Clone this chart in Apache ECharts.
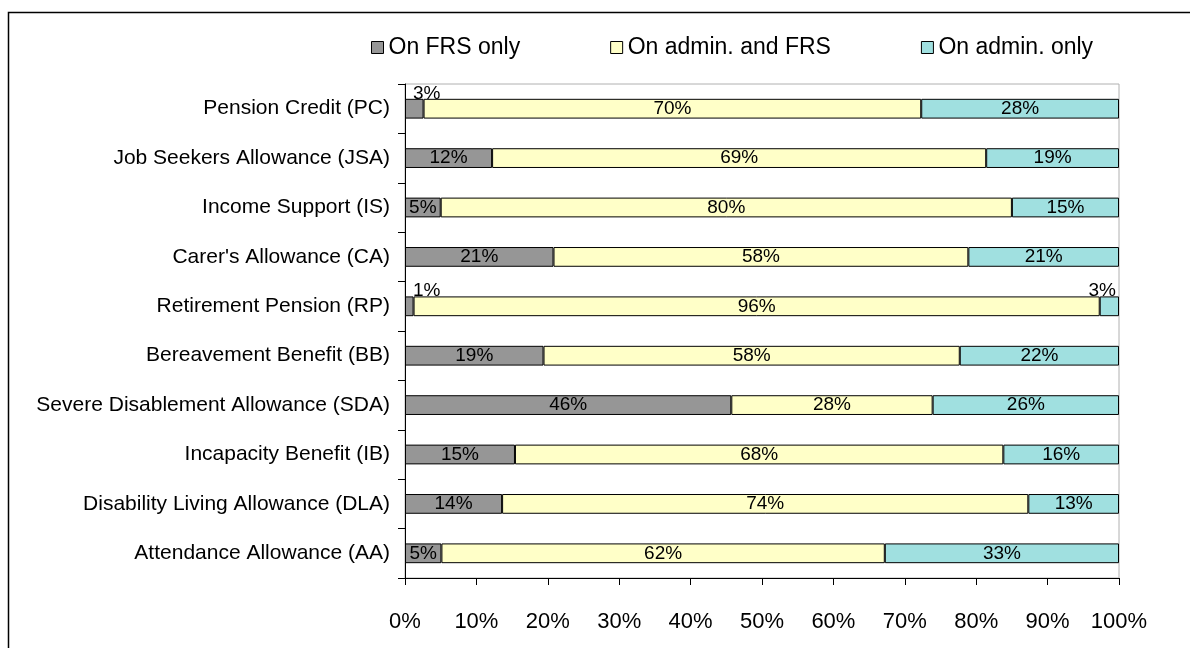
<!DOCTYPE html>
<html>
<head>
<meta charset="utf-8">
<script src="https://cdn.jsdelivr.net/npm/echarts@6/dist/echarts.min.js"></script>
<style>
html,body{margin:0;padding:0;background:#fff;}
#c{width:1190px;height:648px;}
</style>
</head>
<body>
<div id="c"></div>
<script>
const categories = [
  "Pension Credit (PC)",
  "Job Seekers Allowance (JSA)",
  "Income Support (IS)",
  "Carer's Allowance (CA)",
  "Retirement Pension (RP)",
  "Bereavement Benefit (BB)",
  "Severe Disablement Allowance (SDA)",
  "Incapacity Benefit (IB)",
  "Disability Living Allowance (DLA)",
  "Attendance Allowance (AA)"
];
const seriesNames = ["On FRS only", "On admin. and FRS", "On admin. only"];
const frsOnly      = [2.6, 12.2, 5.0, 20.8, 1.2, 19.4, 45.7, 15.4, 13.6, 5.1];
const adminAndFrs  = [69.7, 69.2, 80.0, 58.1, 96.1, 58.3, 28.2, 68.4, 73.7, 62.1];
const adminOnly    = [27.7, 18.6, 15.0, 21.1, 2.7, 22.3, 26.1, 16.2, 12.7, 32.8];
const xTicks = [0, 10, 20, 30, 40, 50, 60, 70, 80, 90, 100];

const colors = ["#969696", "#FFFFC8", "#A0E0E0"];
const FONT = "Liberation Sans, Arial, sans-serif";

function fmt(p){ return Math.round(p.value) + '%'; }

// small segments get their label outside, above the bar
function makeData(arr, side){
  return arr.map(v => {
    if (v < 4 && side === 'left') {
      return {value: v, label: {position: [8, 4], align: 'left', verticalAlign: 'bottom'}};
    }
    if (v < 4 && side === 'right') {
      return {value: v, label: {position: ['100%', 4], align: 'right', verticalAlign: 'bottom', offset: [-3, 0]}};
    }
    return v;
  });
}

const chart = echarts.init(document.getElementById('c'), null, {renderer: 'canvas'});
const seriesData = [makeData(frsOnly, 'left'), makeData(adminAndFrs, 'mid'), makeData(adminOnly, 'right')];

chart.setOption({
  animation: false,
  backgroundColor: '#fff',
  graphic: [{
    type: 'rect', silent: true, z: 0,
    shape: {x: 8.5, y: 12.5, width: 1300, height: 800},
    style: {fill: 'none', stroke: '#000', lineWidth: 1.5}
  }],
  legend: {
    top: 31, left: 366,
    icon: 'rect',
    itemWidth: 12, itemHeight: 12, itemGap: 90,
    textStyle: {fontFamily: FONT, fontSize: 23, color: '#000', padding: [0, 0, 0, 0]},
    data: seriesNames.map((n, i) => ({name: n, itemStyle: {color: colors[i], borderColor: '#000', borderWidth: 1}}))
  },
  grid: {left: 405, right: 71, top: 84, bottom: 70, show: true, borderColor: '#b0b0b0', borderWidth: 1, backgroundColor: 'transparent'},
  xAxis: {
    type: 'value', min: 0, max: 100, interval: 10,
    axisLine: {show: true, lineStyle: {color: '#000', width: 1}},
    axisTick: {show: true, inside: false, length: 7, lineStyle: {color: '#000'}},
    splitLine: {show: false},
    axisLabel: {fontFamily: FONT, fontSize: 22, color: '#000', margin: 33,
      formatter: v => (xTicks.indexOf(v) >= 0 ? v + '%' : '')}
  },
  yAxis: {
    type: 'category', inverse: true, data: categories,
    axisLine: {show: true, lineStyle: {color: '#000', width: 1}},
    axisTick: {show: true, inside: false, length: 7, alignWithLabel: false, lineStyle: {color: '#000'}},
    axisLabel: {fontFamily: FONT, fontSize: 21, color: '#000', margin: 15}
  },
  series: seriesNames.map((n, i) => ({
    name: n, type: 'bar', stack: 'total', barCategoryGap: '60%',
    itemStyle: {color: colors[i], borderColor: '#000', borderWidth: 1},
    label: {show: true, position: 'inside', formatter: fmt, fontFamily: FONT, fontSize: 19, color: '#000'},
    data: seriesData[i]
  }))
});
</script>
</body>
</html>
